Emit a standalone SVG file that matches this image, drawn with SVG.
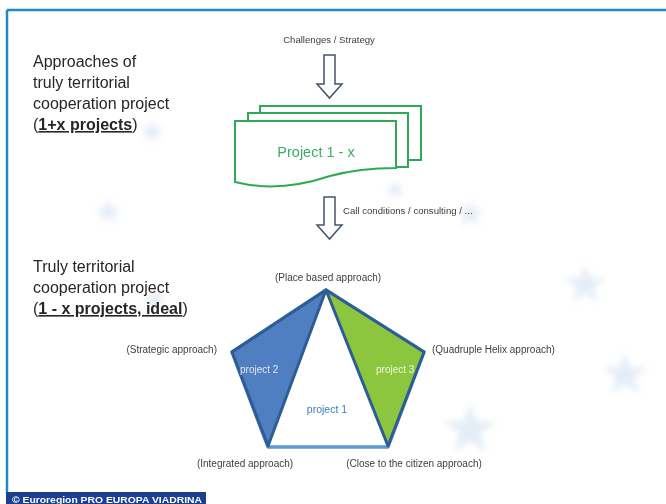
<svg xmlns="http://www.w3.org/2000/svg" width="666" height="504" viewBox="0 0 666 504">
<style>
.t{font-family:"Liberation Sans",Arial,sans-serif;fill:#262626}
.big{font-size:16px}
.sm{font-size:9.6px;fill:#404040}
.lab{font-size:10px;fill:#404040}
.arrow{fill:#fff;stroke:#44546a;stroke-width:1.5;stroke-linejoin:miter}
.doc{fill:#fff;stroke:#2eaa56;stroke-width:2}
.star{fill:#d3e1f1}
</style>
<defs>
<polygon id="st" points="0,-10 2.2,-3.1 9.5,-3.1 3.6,1.2 5.9,8.1 0,3.8 -5.9,8.1 -3.6,1.2 -9.5,-3.1 -2.2,-3.1"/>
<filter id="blur" x="-50%" y="-50%" width="200%" height="200%"><feGaussianBlur stdDeviation="3"/></filter>
</defs>
<rect width="666" height="504" fill="#fff"/>
<g id="background" filter="url(#blur)" opacity="0.6">
<use href="#st" class="star" transform="translate(152,132) scale(1.3)"/>
<use href="#st" class="star" transform="translate(108,212) scale(1.4)"/>
<use href="#st" class="star" transform="translate(300,118) scale(1.1)"/>
<use href="#st" class="star" transform="translate(470,214) scale(1.5)"/>
<use href="#st" class="star" transform="translate(585,285) scale(2.2)"/>
<use href="#st" class="star" transform="translate(625,375) scale(2.4)"/>
<use href="#st" class="star" transform="translate(470,430) scale(2.8)"/>
<use href="#st" class="star" transform="translate(155,300) scale(1.3)"/>
<use href="#st" class="star" transform="translate(395,190) scale(1.1)"/>
</g>
<g id="frame">
<line x1="7" y1="10" x2="666" y2="10" stroke="#1b8cbd" stroke-width="2.5"/>
<line x1="7" y1="10" x2="7" y2="493" stroke="#1b8cbd" stroke-width="2.5"/>
</g>
<g id="title-top">
<text class="t big" x="33" y="67">Approaches of</text>
<text class="t big" x="33" y="88">truly territorial</text>
<text class="t big" x="33" y="109">cooperation project</text>
<text class="t big" x="33" y="130">(<tspan font-weight="bold" text-decoration="underline">1+x projects</tspan>)</text>
</g>
<g id="title-bottom">
<text class="t big" x="33" y="272">Truly territorial</text>
<text class="t big" x="33" y="293">cooperation project</text>
<text class="t big" x="33" y="314">(<tspan font-weight="bold" text-decoration="underline">1 - x projects, ideal</tspan>)</text>
</g>
<g id="challenges">
<text class="t sm" x="329" y="43" text-anchor="middle">Challenges / Strategy</text>
</g>
<g id="connectors">
<path class="arrow" d="M324,55 H335 V84 H342 L329.5,98 L317,84 H324 Z"/>
<path class="arrow" d="M324,197 H335 V225 H342 L329.5,239 L317,225 H324 Z"/>
<text class="t sm" x="343" y="214">Call conditions / consulting / ...</text>
</g>
<g id="projects-stack">
<rect class="doc" x="260" y="106" width="161" height="54"/>
<rect class="doc" x="248" y="113" width="160" height="54"/>
<path class="doc" d="M235,121 H396 V168 C372,168 352,170 330,176 C300,186 266,190 235,182 Z"/>
<text x="316" y="157" text-anchor="middle" font-family="Liberation Sans,Arial,sans-serif" font-size="14.5" fill="#3aae62">Project 1 - x</text>
</g>
<g id="pentagon">
<polygon points="326,290 232,352 268,447 388,447 424,352" fill="#fff" stroke="#5b9bd5" stroke-width="3.5" stroke-linejoin="round"/>
<polygon points="326,290 232,352 268,446" fill="#4f7fc0" stroke="#2e5d94" stroke-width="3" stroke-linejoin="round"/>
<polygon points="326,290 424,352 388,446" fill="#8cc63e" stroke="#2e5d94" stroke-width="3" stroke-linejoin="round"/>
<text x="240" y="373" font-family="Liberation Sans,Arial,sans-serif" font-size="10" fill="#dde6f3">project 2</text>
<text x="376" y="373" font-family="Liberation Sans,Arial,sans-serif" font-size="10" fill="#eef6e0">project 3</text>
<text x="327" y="413" text-anchor="middle" font-family="Liberation Sans,Arial,sans-serif" font-size="10.5" fill="#3a7dc0">project 1</text>
</g>
<g id="labels">
<text class="t lab" x="328" y="281" text-anchor="middle">(Place based approach)</text>
<text class="t lab" x="217" y="353" text-anchor="end">(Strategic approach)</text>
<text class="t lab" x="432" y="353">(Quadruple Helix approach)</text>
<text class="t lab" x="245" y="467" text-anchor="middle">(Integrated approach)</text>
<text class="t lab" x="414" y="467" text-anchor="middle">(Close to the citizen approach)</text>
</g>
<g id="footer">
<rect x="6" y="492" width="200" height="12" fill="#1d3f92"/>
<text x="12" y="503" font-family="Liberation Sans,Arial,sans-serif" font-size="9.5" font-weight="bold" fill="#fff" textLength="190" lengthAdjust="spacingAndGlyphs">© Euroregion PRO EUROPA VIADRINA</text>
</g>
</svg>
